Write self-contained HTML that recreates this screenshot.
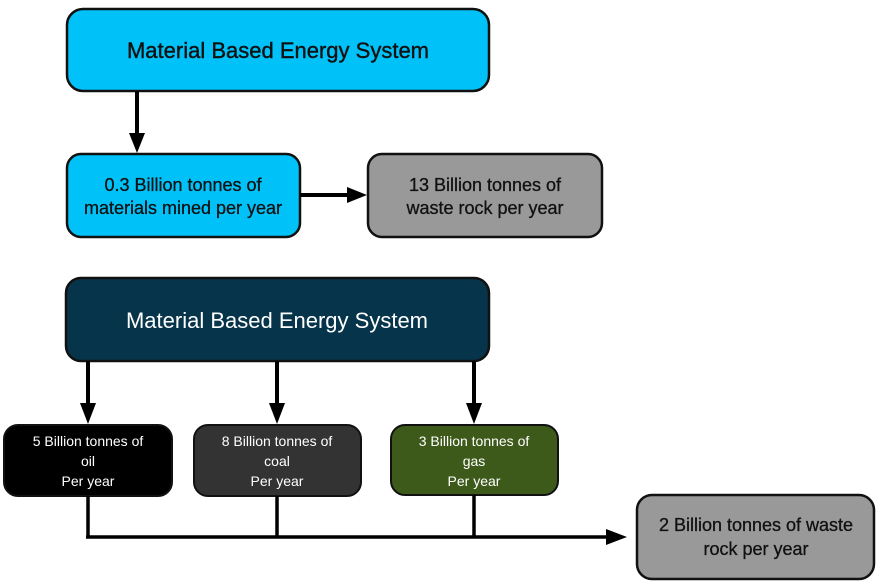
<!DOCTYPE html>
<html><head><meta charset="utf-8"><style>
html,body{margin:0;padding:0;background:#fff;}
svg{display:block;}
text{font-family:"Liberation Sans",Arial,sans-serif;text-anchor:middle;}
</style></head><body>
<svg width="879" height="587" viewBox="0 0 879 587" xmlns="http://www.w3.org/2000/svg">
<defs>
<marker id="ah" markerWidth="10" markerHeight="10" refX="9" refY="5" orient="auto" markerUnits="userSpaceOnUse">
</marker>
</defs>
<!-- top section -->
<rect x="67" y="9" width="422" height="82" rx="16" fill="#00c2f9" stroke="#111" stroke-width="2.5"/>
<text x="278" y="58" font-size="22" fill="#111" stroke="#111" stroke-width="0.4">Material Based Energy System</text>
<line x1="137" y1="91" x2="137" y2="134" stroke="#000" stroke-width="4"/>
<polygon points="129,133 145,133 137,153" fill="#000"/>
<rect x="67" y="154" width="233" height="83" rx="14" fill="#00c2f9" stroke="#111" stroke-width="2.5"/>
<text x="183" y="191" font-size="18" fill="#111" stroke="#111" stroke-width="0.3">0.3 Billion tonnes of</text>
<text x="183" y="214" font-size="18" fill="#111" stroke="#111" stroke-width="0.3">materials mined per year</text>
<line x1="300" y1="195" x2="348" y2="195" stroke="#000" stroke-width="4"/>
<polygon points="347,187 347,203 367,195" fill="#000"/>
<rect x="368" y="154" width="234" height="83" rx="14" fill="#999" stroke="#111" stroke-width="2.5"/>
<text x="485" y="191" font-size="18" fill="#111" stroke="#111" stroke-width="0.3">13 Billion tonnes of</text>
<text x="485" y="214" font-size="18" fill="#111" stroke="#111" stroke-width="0.3">waste rock per year</text>
<!-- bottom section -->
<rect x="66" y="278" width="423" height="83" rx="15" fill="#06354b" stroke="#111" stroke-width="2.5"/>
<text x="277" y="328" font-size="22" fill="#fff">Material Based Energy System</text>
<g stroke="#000" stroke-width="4">
<line x1="88" y1="361" x2="88" y2="405"/>
<line x1="277" y1="361" x2="277" y2="405"/>
<line x1="474" y1="361" x2="474" y2="405"/>
</g>
<polygon points="80,403 96,403 88,424" fill="#000"/>
<polygon points="269,403 285,403 277,424" fill="#000"/>
<polygon points="466,403 482,403 474,424" fill="#000"/>
<rect x="4" y="425" width="168" height="71" rx="14" fill="#000" stroke="#111" stroke-width="2"/>
<rect x="194" y="425" width="167" height="71" rx="14" fill="#333" stroke="#111" stroke-width="2"/>
<rect x="391" y="425" width="167" height="70" rx="14" fill="#3d5a1b" stroke="#111" stroke-width="2"/>
<g font-size="14" fill="#fff">
<text x="88" y="446">5 Billion tonnes of</text>
<text x="88" y="466">oil</text>
<text x="88" y="486">Per year</text>
<text x="277" y="446">8 Billion tonnes of</text>
<text x="277" y="466">coal</text>
<text x="277" y="486">Per year</text>
<text x="474" y="446">3 Billion tonnes of</text>
<text x="474" y="466">gas</text>
<text x="474" y="486">Per year</text>
</g>
<g stroke="#000" stroke-width="3.5" fill="none">
<line x1="88" y1="496" x2="88" y2="537"/>
<line x1="277" y1="496" x2="277" y2="537"/>
<line x1="474" y1="495" x2="474" y2="537"/>
<line x1="86" y1="537" x2="608" y2="537"/>
</g>
<polygon points="606,529 606,545 627,537" fill="#000"/>
<rect x="637" y="495" width="237" height="84" rx="15" fill="#999" stroke="#111" stroke-width="2.5"/>
<text x="756" y="531" font-size="18" fill="#111" stroke="#111" stroke-width="0.3">2 Billion tonnes of waste</text>
<text x="756" y="555" font-size="18" fill="#111" stroke="#111" stroke-width="0.3">rock per year</text>
</svg>
</body></html>
